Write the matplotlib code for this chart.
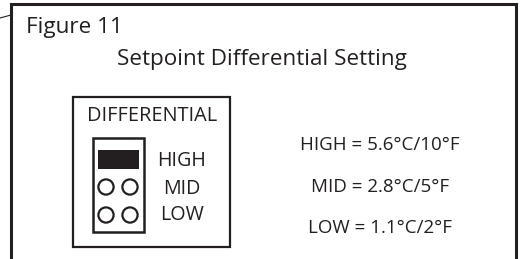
import matplotlib.pyplot as plt
from matplotlib.patches import Rectangle, Circle

plt.rcParams['font.family'] = ['Open Sans', 'DejaVu Sans']

fig_label = "Figure 11"
title = "Setpoint Differential Setting"
box_title = "DIFFERENTIAL"
settings = ["HIGH", "MID", "LOW"]
values = ["5.6°C/10°F", "2.8°C/5°F", "1.1°C/2°F"]

ink = '#231f20'

fig = plt.figure(figsize=(5.23, 2.59), dpi=100)
ax = fig.add_axes([0, 0, 1, 1])
ax.set_xlim(0, 523)
ax.set_ylim(259, 0)
ax.axis('off')

# outer frame (open at the bottom)
ax.plot([11, 11, 516, 516], [262, 3.5, 3.5, 262], color=ink, lw=2.2,
        solid_joinstyle='miter')
ax.plot([0, 11], [18, 15], color=ink, lw=0.8)

ax.text(26, 32.5, fig_label, fontsize=16.2, color=ink, va='baseline', ha='left')
ax.text(262, 65, title, fontsize=16.2, color=ink, va='baseline', ha='center')

# inner switch box
ax.add_patch(Rectangle((73, 97), 157, 150, fill=False, ec=ink, lw=1.6))
ax.text(152, 121, box_title, fontsize=14.3, color=ink, va='baseline', ha='center')

# jumper block
ax.add_patch(Rectangle((93, 138), 51, 94, fill=False, ec=ink, lw=1.8))
ax.add_patch(Rectangle((98, 150), 41, 19, fc=ink, ec='none'))
for cy in [187, 215]:
    for cx in [106, 130]:
        ax.add_patch(Circle((cx, cy), 7.6, fill=False, ec=ink, lw=1.6))

label_y = [166, 194, 220]
for s, y in zip(settings, label_y):
    ax.text(182, y, s, fontsize=14.2, color=ink, va='baseline', ha='center')

value_y = [150, 192, 233]
for s, v, y in zip(settings, values, value_y):
    ax.text(380, y, s + " = " + v, fontsize=13.5, color=ink,
            va='baseline', ha='center')

fig.savefig('out.png', dpi=100)
